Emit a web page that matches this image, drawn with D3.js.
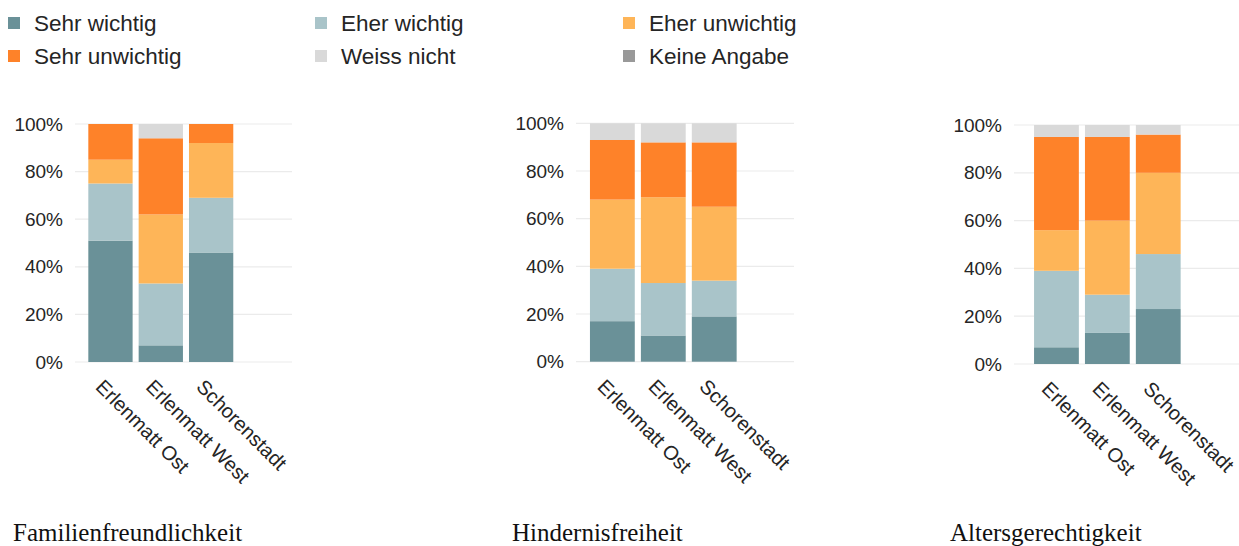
<!DOCTYPE html>
<html>
<head>
<meta charset="utf-8">
<script src="https://cdn.jsdelivr.net/npm/d3@7"></script>
<style>
  html, body { margin: 0; padding: 0; background: #fff; }
  svg { display: block; }
</style>
</head>
<body>
<svg id="chart" width="1239" height="546"></svg>
<script>
// Answer categories (stack order, bottom to top) and their colours
const answers = ["Sehr wichtig", "Eher wichtig", "Eher unwichtig", "Sehr unwichtig", "Weiss nicht", "Keine Angabe"];
const answerColors = ["#6a9198", "#a9c4c9", "#feb558", "#fe8229", "#d9d9d9", "#999999"];

// Neighbourhoods shown in each panel
const quarters = ["Erlenmatt Ost", "Erlenmatt West", "Schorenstadt"];

// Panel titles
const topics = ["Familienfreundlichkeit", "Hindernisfreiheit", "Altersgerechtigkeit"];

// Shares in percent, one row per neighbourhood, columns in the order of `answers`
const familienfreundlichkeit = [
  [51, 24, 10, 15, 0, 0],
  [7, 26, 29, 32, 6, 0],
  [46, 23, 23, 8, 0, 0]
];
const hindernisfreiheit = [
  [17, 22, 29, 25, 7, 0],
  [11, 22, 36, 23, 8, 0],
  [19, 15, 31, 27, 8, 0]
];
const altersgerechtigkeit = [
  [7, 32, 17, 39, 5, 0],
  [13, 16, 31, 35, 5, 0],
  [23, 23, 34, 16, 4, 0]
];

// Y axis ticks
const yTicks = [0, 20, 40, 60, 80, 100];

const panelData = [familienfreundlichkeit, hindernisfreiheit, altersgerechtigkeit];

// Placement of the three small charts
const panels = [
  { gridX0: 75,   gridX1: 292,  bandX0: 85.3,  bandX1: 236.3,  yTop: 124,   yBottom: 362,   titleX: 13 },
  { gridX0: 576,  gridX1: 794,  bandX0: 586.9, bandX1: 739.7,  yTop: 123.3, yBottom: 361.7, titleX: 512 },
  { gridX0: 1014, gridX1: 1239, bandX0: 1031,  bandX1: 1183.7, yTop: 125,   yBottom: 364,   titleX: 950 }
];

const svg = d3.select("#chart");
const sans = "'Liberation Sans', Arial, sans-serif";
const textColor = "#252525";

// Legend: two rows, three columns
const legendCols = [8, 315, 623];
const legendRows = [17, 50];
const legend = svg.append("g").attr("class", "legend");
answers.forEach((name, i) => {
  const col = i % 3, row = Math.floor(i / 3);
  const g = legend.append("g")
    .attr("transform", `translate(${legendCols[col]},${legendRows[row]})`);
  g.append("rect").attr("width", 12).attr("height", 12).attr("fill", answerColors[i]);
  g.append("text")
    .attr("x", 26).attr("y", 13.5)
    .attr("font-family", sans).attr("font-size", 22.5)
    .attr("fill", textColor)
    .text(name);
});

const stack = d3.stack()
  .keys(d3.range(answers.length))
  .value((row, k) => row[k]);

panels.forEach((p, pi) => {
  const rows = panelData[pi];
  const g = svg.append("g").attr("class", "panel");

  const x = d3.scaleBand()
    .domain(quarters)
    .range([p.bandX0, p.bandX1])
    .paddingInner(0.12)
    .paddingOuter(0.06);

  const y = d3.scaleLinear().domain([0, 100]).range([p.yBottom, p.yTop]);

  // Horizontal gridlines
  g.append("g").selectAll("line")
    .data(yTicks)
    .join("line")
    .attr("x1", p.gridX0).attr("x2", p.gridX1)
    .attr("y1", d => y(d)).attr("y2", d => y(d))
    .attr("stroke", "#ebebeb").attr("stroke-width", 1.2);

  // Y axis labels
  const yAxis = d3.axisLeft(y)
    .tickValues(yTicks)
    .tickFormat(d => d + "%")
    .tickSize(0)
    .tickPadding(0);
  const ya = g.append("g")
    .attr("transform", `translate(${p.gridX0 - 12},0)`)
    .call(yAxis);
  ya.select(".domain").remove();
  ya.selectAll("text")
    .attr("font-family", sans).attr("font-size", 19)
    .attr("fill", textColor);

  // Stacked bars
  const series = stack(rows);
  g.append("g").selectAll("g")
    .data(series)
    .join("g")
    .attr("fill", s => answerColors[s.key])
    .selectAll("rect")
    .data(s => s.map((d, i) => ({ d, q: quarters[i] })))
    .join("rect")
    .attr("x", o => x(o.q))
    .attr("width", x.bandwidth())
    .attr("y", o => y(o.d[1]))
    .attr("height", o => y(o.d[0]) - y(o.d[1]));

  // Rotated category labels
  g.append("g").selectAll("text")
    .data(quarters)
    .join("text")
    .attr("transform", q => `translate(${x(q) + x.bandwidth() / 2 - 16},${p.yBottom + 26}) rotate(45)`)
    .attr("font-family", sans).attr("font-size", 20)
    .attr("fill", textColor)
    .text(q => q);

  // Panel title
  svg.append("text")
    .attr("x", p.titleX).attr("y", 541)
    .attr("font-family", "'Liberation Serif', 'Times New Roman', serif")
    .attr("font-size", 25)
    .attr("fill", "#111")
    .text(topics[pi]);
});
</script>
</body>
</html>
